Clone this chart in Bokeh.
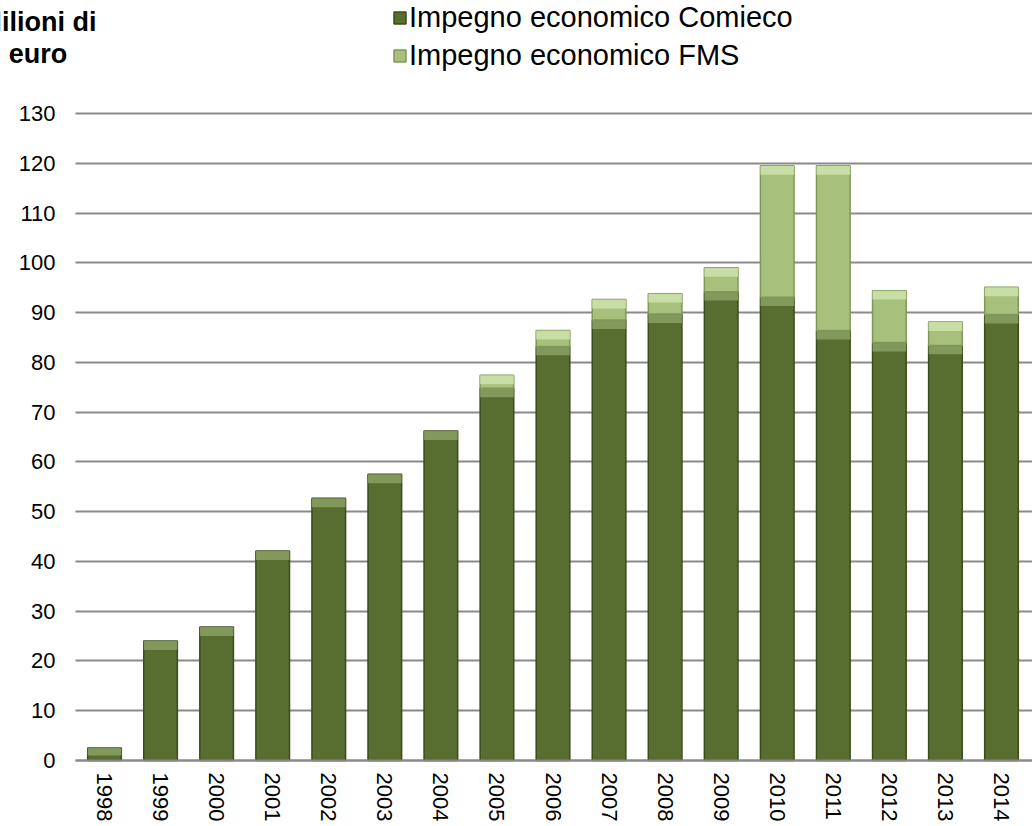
import math
from bokeh.plotting import figure
from bokeh.models import (ColumnDataSource, Legend, LegendItem, Label, FixedTicker,
                          LinearAxis, Grid, Range1d)
from bokeh.embed import file_html
from bokeh.resources import INLINE

years = ["1998", "1999", "2000", "2001", "2002", "2003", "2004", "2005", "2006",
         "2007", "2008", "2009", "2010", "2011", "2012", "2013", "2014"]
comieco = [2.5, 24.0, 26.8, 42.1, 52.7, 57.5, 66.2, 74.8, 83.2, 88.5, 89.7, 94.2,
           93.1, 86.4, 84.0, 83.4, 89.6]
fms = [0, 0, 0, 0, 0, 0, 0, 2.6, 3.2, 4.1, 4.1, 4.8, 26.4, 33.1, 10.4, 4.7, 5.5]

series_names = ["Impegno economico Comieco", "Impegno economico FMS"]
y_ticks = list(range(0, 131, 10))
y_title = ["Milioni di", "euro"]

DARK = "#586d30"
DARK_EDGE = "#3d4b1d"
LIGHT = "#a7c07c"
LIGHT_EDGE = "#7f9857"
CAP = 1.8

W, H = 1032, 826
Y_BOTTOM, Y_TOP = -13.26, 152.70
X_START, X_END = -1.855, 16.553
X_AXIS_AT = -0.517

idx = list(range(len(years)))
totals = [c + f for c, f in zip(comieco, fms)]
src = ColumnDataSource(dict(x=idx, comieco=comieco, zero=[0] * len(years),
                            ccap=[max(c - CAP, 0.4 * c) for c in comieco]))
fx = [i for i, f in zip(idx, fms) if f > 0]
ft = [t for t, f in zip(totals, fms) if f > 0]
fb = [c for c, f in zip(comieco, fms) if f > 0]
fsrc = ColumnDataSource(dict(x=fx, top=ft, bottom=fb, cap=[t - CAP for t in ft]))

p = figure(x_range=Range1d(X_START, X_END), y_range=Range1d(Y_BOTTOM, Y_TOP),
           width=W, height=H, output_backend="svg", toolbar_location=None,
           x_axis_location=None, y_axis_location=None,
           min_border_left=0, min_border_right=0, min_border_top=0,
           min_border_bottom=0)
p.outline_line_color = None
p.background_fill_color = "white"
p.border_fill_color = "white"
for g in p.grid:
    g.visible = False

# horizontal gridlines
grid = Grid(dimension=1, ticker=FixedTicker(ticks=y_ticks),
            grid_line_color="#8a8a8a", grid_line_width=2, level="underlay")
try:
    grid.cross_bounds = (X_AXIS_AT, X_END)
    p.add_layout(grid)
except Exception:
    p.segment(x0=[X_AXIS_AT] * len(y_ticks), x1=[X_END] * len(y_ticks),
              y0=y_ticks, y1=y_ticks, line_color="#8a8a8a", line_width=2,
              level="underlay")

r1 = p.vbar(x="x", bottom="zero", top="comieco", width=0.6, source=src,
            fill_color=DARK, line_color=DARK_EDGE, line_width=1.5)
p.vbar(x="x", bottom="ccap", top="comieco", width=0.6, source=src,
       fill_color="#91a86a", fill_alpha=0.75, line_color=None)
r2 = p.vbar(x="x", bottom="bottom", top="top", width=0.6, source=fsrc,
            fill_color=LIGHT, line_color=LIGHT_EDGE, line_width=1.5)
p.vbar(x="x", bottom="cap", top="top", width=0.6, source=fsrc,
       fill_color="#cfe3ab", fill_alpha=0.85, line_color=None)

yaxis = LinearAxis(fixed_location=X_AXIS_AT, ticker=FixedTicker(ticks=y_ticks))
yaxis.axis_line_color = None
yaxis.major_tick_line_color = None
yaxis.major_tick_out = 0
yaxis.major_tick_in = 0
yaxis.minor_tick_line_color = None
yaxis.major_label_standoff = 20
yaxis.major_label_text_font = "Liberation Sans"
yaxis.major_label_text_font_size = "22px"
yaxis.major_label_text_color = "black"
p.add_layout(yaxis, "left")

xaxis = LinearAxis(fixed_location=0, ticker=FixedTicker(ticks=idx))
xaxis.major_label_overrides = {i: y for i, y in zip(idx, years)}
xaxis.bounds = (X_AXIS_AT, X_END)
xaxis.axis_line_color = "#8a8a8a"
xaxis.axis_line_width = 2
xaxis.major_tick_line_color = None
xaxis.major_tick_out = 0
xaxis.major_tick_in = 0
xaxis.minor_tick_line_color = None
xaxis.major_label_orientation = -math.pi / 2
xaxis.major_label_standoff = 12
xaxis.major_label_text_font = "Liberation Sans"
xaxis.major_label_text_font_size = "22px"
xaxis.major_label_text_color = "black"
p.add_layout(xaxis, "below")

legend = Legend(items=[LegendItem(label=series_names[0], renderers=[r1]),
                       LegendItem(label=series_names[1], renderers=[r2])],
                location=(392, 754))
legend.background_fill_alpha = 0
legend.border_line_color = None
legend.padding = 0
legend.margin = 0
legend.spacing = 5
legend.glyph_width = 15
legend.glyph_height = 15
legend.label_height = 30
legend.label_standoff = 2
legend.label_text_font = "Liberation Sans"
legend.label_text_font_size = "29px"
legend.label_text_color = "black"
p.add_layout(legend, "center")

for txt, yy in zip(y_title, (148.3, 142.0)):
    p.add_layout(Label(x=-1.186, y=yy, text=txt, text_align="center",
                       text_baseline="alphabetic", text_font="Liberation Sans",
                       text_font_style="bold", text_font_size="27px",
                       text_color="black"))

open("out.html", "w").write(file_html(p, INLINE))
